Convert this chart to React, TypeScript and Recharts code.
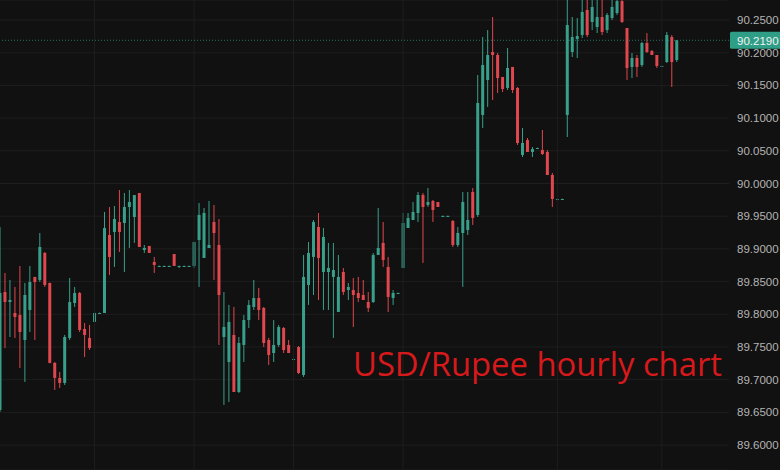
import { Bar, CartesianGrid, ComposedChart, ReferenceLine, XAxis, YAxis } from 'recharts';

// hourly USD/INR candles (oldest first)
const opens = [
  89.6537, 89.8341, 89.8188, 89.802, 89.799, 89.7607, 89.8066, 89.8571, 89.8525, 89.8938,
  89.8479, 89.7256, 89.7027, 89.695, 89.7638, 89.8173, 89.8326, 89.7776, 89.7638, 89.7883,
  89.802, 89.802, 89.9213, 89.9259, 89.9412, 89.9396, 89.9641, 89.9488, 89.9855, 89.8983,
  89.9045, 89.88, 89.8739, 89.8739, 89.8739, 89.8922, 89.8739, 89.8739, 89.8739, 89.8739,
  89.9136, 89.8861, 89.9014, 89.9412, 89.906, 89.7653, 89.7271, 89.7684, 89.6812, 89.7531,
  89.7912, 89.8112, 89.8249, 89.8097, 89.7607, 89.7408, 89.7531, 89.7791, 89.7531, 89.7317,
  89.75, 89.7072, 89.8448, 89.8877, 89.9335, 89.8647, 89.8647, 89.8571, 89.8036, 89.8647,
  89.8371, 89.8371, 89.8326, 89.8295, 89.8188, 89.8188, 89.8907, 89.9091, 89.8724, 89.8249,
  89.8326, 89.8708, 89.932, 89.9442, 89.9549, 89.9824, 89.9672, 89.9733, 89.9717, 89.9504,
  89.9504, 89.9427, 89.906, 89.9243, 89.9289, 89.987, 89.9519, 90.1048, 90.1583, 90.2011,
  90.1965, 90.1629, 90.1461, 90.1782, 90.1461, 90.0436, 90.0665, 90.0482, 90.0543, 90.0512,
  90.0482, 90.013, 89.9763, 89.9763, 90.1048, 90.2011, 90.2209, 90.2271, 90.2653, 90.247,
  90.2393, 90.2546, 90.2347, 90.2531, 90.2607, 90.279, 90.2378, 90.1782, 90.1919, 90.1812,
  90.2149, 90.2026, 90.1965, 90.1797, 90.1858, 90.224, 90.1888,
];
const highs = [
  89.9335, 89.8632, 89.8525, 89.8418, 89.8739, 89.8479, 89.8739, 89.8571, 89.9243, 89.8953,
  89.8485, 89.7271, 89.7118, 89.7684, 89.8555, 89.8418, 89.8341, 89.7867, 89.7837, 89.8036,
  89.8025, 89.9565, 89.9641, 89.9656, 89.99, 89.9855, 89.99, 89.9824, 89.9855, 89.906,
  89.9045, 89.8877, 89.8744, 89.8744, 89.8744, 89.8922, 89.8744, 89.8744, 89.8744, 89.9106,
  89.9702, 89.9626, 89.9733, 89.9672, 89.9458, 89.8341, 89.8143, 89.8112, 89.7653, 89.799,
  89.8218, 89.8525, 89.8402, 89.8112, 89.7638, 89.7912, 89.7837, 89.7806, 89.7607, 89.7322,
  89.7515, 89.8907, 89.9106, 89.9442, 89.9549, 89.932, 89.9091, 89.9091, 89.8907, 89.8708,
  89.8479, 89.8555, 89.8571, 89.8525, 89.8341, 89.8938, 89.9626, 89.9412, 89.8877, 89.8371,
  89.8331, 89.9549, 89.9549, 89.9717, 89.987, 89.9855, 89.9931, 89.9748, 89.9717, 89.9509,
  89.9509, 89.9442, 89.9335, 89.987, 89.987, 89.9931, 90.1659, 90.224, 90.2347, 90.2546,
  90.1996, 90.1629, 90.2072, 90.1782, 90.1476, 90.0849, 90.0696, 90.0558, 90.0548, 90.0818,
  90.0512, 90.0161, 89.9768, 89.9768, 90.285, 90.2546, 90.2531, 90.285, 90.285, 90.285,
  90.285, 90.285, 90.2607, 90.285, 90.29, 90.285, 90.2378, 90.1996, 90.1965, 90.2164,
  90.2301, 90.2041, 90.1965, 90.1802, 90.2317, 90.2271, 90.2194,
];
const lows = [
  89.6507, 89.7485, 89.7653, 89.7638, 89.7179, 89.6965, 89.773, 89.7607, 89.8494, 89.8418,
  89.725, 89.6843, 89.6873, 89.6919, 89.7607, 89.8112, 89.773, 89.7347, 89.7454, 89.7883,
  89.8015, 89.802, 89.8601, 89.8724, 89.8953, 89.8647, 89.9014, 89.9091, 89.9029, 89.8938,
  89.8938, 89.8632, 89.8734, 89.8734, 89.8734, 89.8739, 89.8708, 89.8734, 89.8734, 89.8708,
  89.8418, 89.8861, 89.9014, 89.8525, 89.7531, 89.6614, 89.6659, 89.6812, 89.6797, 89.7271,
  89.7791, 89.8066, 89.7912, 89.75, 89.7225, 89.7271, 89.75, 89.7408, 89.7408, 89.7312,
  89.7087, 89.7042, 89.8143, 89.8295, 89.8219, 89.8066, 89.8066, 89.7638, 89.8036, 89.8295,
  89.8219, 89.7806, 89.8188, 89.8219, 89.8036, 89.8173, 89.8907, 89.8724, 89.8036, 89.8143,
  89.8321, 89.8708, 89.932, 89.9442, 89.9412, 89.8785, 89.9641, 89.9412, 89.9641, 89.9499,
  89.9499, 89.9029, 89.9029, 89.8418, 89.9213, 89.9366, 89.9488, 90.0849, 90.117, 90.1277,
  90.1384, 90.1399, 90.143, 90.1384, 90.0589, 90.0405, 90.0482, 90.0405, 90.0538, 90.0436,
  90.013, 89.9641, 89.9758, 89.9758, 90.0711, 90.1934, 90.1919, 90.2225, 90.224, 90.2347,
  90.2301, 90.2271, 90.2301, 90.25, 90.2577, 90.2454, 90.1583, 90.1613, 90.1629, 90.1782,
  90.1996, 90.1965, 90.1766, 90.1792, 90.1843, 90.1476, 90.1858,
];
const closes = [
  89.8326, 89.8188, 89.8219, 89.7959, 89.773, 89.8295, 89.8494, 89.8494, 89.9029, 89.8448,
  89.7256, 89.7027, 89.695, 89.7653, 89.8188, 89.8326, 89.776, 89.7684, 89.7485, 89.802,
  89.802, 89.932, 89.8877, 89.9458, 89.9259, 89.9641, 89.9717, 89.9824, 89.9029, 89.9014,
  89.8938, 89.8754, 89.8739, 89.8739, 89.8739, 89.8739, 89.8739, 89.8739, 89.8739, 89.9106,
  89.9519, 89.9549, 89.906, 89.9243, 89.8295, 89.7806, 89.7883, 89.6812, 89.7561, 89.7912,
  89.8143, 89.8249, 89.8066, 89.7561, 89.7378, 89.7531, 89.7806, 89.7454, 89.7408, 89.7317,
  89.7103, 89.8571, 89.8938, 89.9412, 89.8861, 89.9182, 89.8708, 89.8677, 89.8571, 89.8341,
  89.8418, 89.8295, 89.8249, 89.8219, 89.8097, 89.8907, 89.9014, 89.883, 89.8265, 89.8326,
  89.8326, 89.9396, 89.9473, 89.9565, 89.9824, 89.9641, 89.9717, 89.9595, 89.9641, 89.9504,
  89.9504, 89.906, 89.9243, 89.9717, 89.9442, 89.9473, 90.1231, 90.1812, 90.1965, 90.1965,
  90.1613, 90.1445, 90.1766, 90.143, 90.062, 90.062, 90.0482, 90.0528, 90.0543, 90.0451,
  90.013, 89.9763, 89.9763, 89.9763, 90.2424, 90.224, 90.2255, 90.2623, 90.2271, 90.2699,
  90.2546, 90.2317, 90.2577, 90.2699, 90.279, 90.247, 90.1766, 90.1919, 90.1782, 90.2149,
  90.2011, 90.1965, 90.1797, 90.1797, 90.2271, 90.1858, 90.219,
];

const priceTicks = [
  89.6, 89.65, 89.7, 89.75, 89.8, 89.85, 89.9, 89.95, 90.0, 90.05, 90.1, 90.15, 90.2, 90.25,
];
const lastPrice = 90.219;
// candle slots where the time grid lines fall
const timeGridSlots = [19, 39, 59, 81, 112, 133];
const slotCount = 147;

const UP = '#38a08a';
const DOWN = '#e0474e';
const GRID = '#1e1e1e';

const data = Array.from({ length: slotCount }, (_, i) =>
  i < opens.length
    ? { i, open: opens[i], high: highs[i], low: lows[i], close: closes[i] }
    : { i },
);

const Candle = (props: any) => {
  const { x, y, width, height, payload } = props;
  if (payload == null || payload.open == null) return null;
  const { open, high, low, close } = payload;
  const k = high > low ? height / (high - low) : 0;
  const yO = y + (high - open) * k;
  const yC = y + (high - close) * k;
  const color = close >= open ? UP : DOWN;
  const cx = x + width / 2;
  const top = Math.min(yO, yC);
  const h = Math.max(1, Math.abs(yO - yC));
  return (
    <g>
      <line x1={cx} x2={cx} y1={y} y2={y + Math.max(height, 1)} stroke={color} strokeWidth={1} />
      <rect x={x} y={top} width={width} height={h} fill={color} />
    </g>
  );
};

const PriceTag = (props: any) => {
  const { viewBox } = props;
  if (!viewBox) return null;
  const right = viewBox.x + viewBox.width;
  return (
    <g>
      <rect x={right + 1} y={viewBox.y - 8.5} width={52} height={17} fill="#2e9f86" rx={1.5} />
      <text
        x={right + 8}
        y={viewBox.y + 4.5}
        fill="#f2f2f2"
        fontSize={11.5}
        fontFamily="'Liberation Sans', Arial, sans-serif"
      >
        {lastPrice.toFixed(4)}
      </text>
    </g>
  );
};

export default function App() {
  return (
    <div
      style={{
        position: 'absolute',
        left: 0,
        top: 0,
        width: 780,
        height: 470,
        background: '#111111',
        overflow: 'hidden',
      }}
    >
      <ComposedChart
        width={780}
        height={470}
        data={data}
        margin={{ top: 0, right: 0, bottom: 0, left: -2.5 }}
      >
        <CartesianGrid stroke={GRID} vertical={false} />
        {timeGridSlots.map((s) => (
          <ReferenceLine key={s} x={s} stroke={GRID} />
        ))}
        <XAxis dataKey="i" hide />
        <YAxis
          orientation="right"
          width={51}
          domain={[89.5619, 90.2806]}
          allowDataOverflow
          ticks={priceTicks}
          interval={0}
          axisLine={false}
          tickLine={false}
          tickSize={0}
          tickMargin={8}
          tick={{ fill: '#b4b4b4', fontSize: 11.5, fontFamily: "'Liberation Sans', Arial, sans-serif" }}
          tickFormatter={(v: number) => v.toFixed(4)}
        />
        <ReferenceLine
          y={lastPrice}
          stroke="#2e9f86"
          strokeOpacity={0.7}
          strokeDasharray="1 2"
          label={<PriceTag />}
        />
        <Bar
          dataKey={(d: any) => (d.open == null ? null : [d.low, d.high])}
          barSize={3}
          shape={<Candle />}
          isAnimationActive={false}
        />
      </ComposedChart>
      <svg
        width={780}
        height={470}
        style={{ position: 'absolute', left: 0, top: 0, pointerEvents: 'none' }}
      >
        <text
          x={353}
          y={376}
          fill="#d8191c"
          fontSize={32}
          fontFamily="'Open Sans', sans-serif"
          textLength={369}
          lengthAdjust="spacingAndGlyphs"
        >
          USD/Rupee hourly chart
        </text>
      </svg>
    </div>
  );
}
